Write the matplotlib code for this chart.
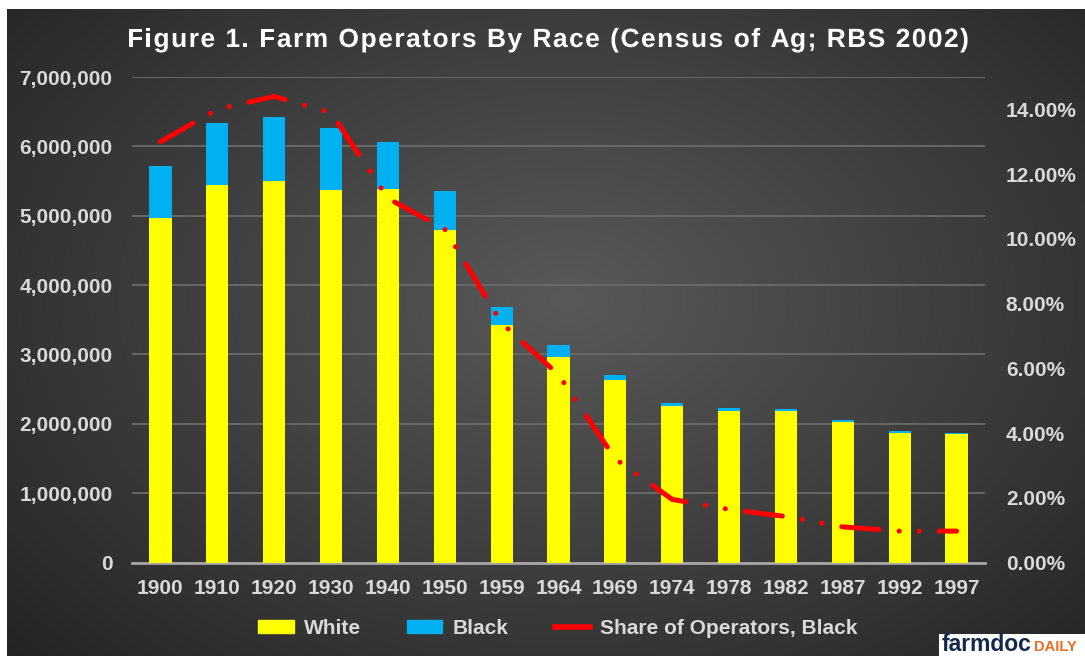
import numpy as np
import matplotlib
matplotlib.use("Agg")
import matplotlib.pyplot as plt
from matplotlib.patches import Patch, Rectangle
from matplotlib.lines import Line2D
from matplotlib import patheffects as pe

# data
years = ["1900", "1910", "1920", "1930", "1940", "1950", "1959", "1964",
         "1969", "1974", "1978", "1982", "1987", "1992", "1997"]
white = [4.97e6, 5.44e6, 5.50e6, 5.37e6, 5.39e6, 4.80e6, 3.43e6, 2.96e6,
         2.63e6, 2.26e6, 2.19e6, 2.18e6, 2.03e6, 1.87e6, 1.85e6]
black = [0.74e6, 0.90e6, 0.92e6, 0.89e6, 0.67e6, 0.56e6, 0.26e6, 0.17e6,
         0.08e6, 0.035e6, 0.035e6, 0.03e6, 0.025e6, 0.02e6, 0.02e6]
share = [0.130, 0.140, 0.144, 0.139, 0.1125, 0.103, 0.074, 0.058,
         0.032, 0.0195, 0.0164, 0.0142, 0.011, 0.0097, 0.0097]
title = "Figure 1. Farm Operators By Race (Census of Ag; RBS 2002)"

plt.rcParams["font.family"] = ["Liberation Sans", "DejaVu Sans"]
plt.rcParams["font.weight"] = "bold"
txt_color = "#d9d9d9"

W, H = 1085, 656
fig = plt.figure(figsize=(W / 100, H / 100), dpi=100, facecolor="white")

# dark radial background (white strip on top and left like the original)
bg = fig.add_axes([7 / W, 0, 1 - 7 / W, 1 - 9 / H])
yy, xx = np.mgrid[0:1:300j, 0:1:500j]
r = np.sqrt(((xx - 0.52) / 0.75) ** 2 + ((yy - 0.45) / 0.85) ** 2)
shade = np.clip(0.35 - 0.22 * r, 0.14, 0.35)
bg.imshow(np.dstack([shade, shade, shade]), aspect="auto",
          extent=[0, 1, 0, 1], interpolation="bilinear")
bg.set_axis_off()

ax = fig.add_axes([132 / W, 1 - 562.5 / H, 853 / W, 485.5 / H])
ax.patch.set_alpha(0)
x = np.arange(len(years))

ax.bar(x, white, width=0.39, color="#ffff00", zorder=3)
ax.bar(x, black, width=0.39, bottom=white, color="#00b0f0", zorder=3)

ax.set_xlim(-0.5, len(years) - 0.5)
ax.set_ylim(0, 7e6)
ax.set_yticks(np.arange(0, 7.01e6, 1e6))
ax.yaxis.set_major_formatter(matplotlib.ticker.FuncFormatter(lambda v, p: f"{v:,.0f}"))
ax.set_xticks(x)
ax.set_xticklabels(years)
ax.grid(axis="y", color="#6b6b6b", lw=1.3, zorder=0)
for s in ["top", "right", "left"]:
    ax.spines[s].set_visible(False)
ax.spines["bottom"].set_color("#a6a6a6")
ax.spines["bottom"].set_linewidth(2)
ax.tick_params(axis="both", length=0, colors=txt_color, labelsize=15)
ax.tick_params(axis="x", pad=12)
ax.tick_params(axis="y", pad=14)

# share line on the right axis
ax2 = ax.twinx()
ax2.set_ylim(0, 0.15)
ax2.set_yticks(np.arange(0, 0.141, 0.02))
ax2.yaxis.set_major_formatter(matplotlib.ticker.PercentFormatter(1.0, decimals=2))
ax2.plot(x, share, color="#ff0000", lw=3.6, solid_capstyle="round",
         dash_capstyle="round", dashes=(7.5, 4, 0.03, 4, 0.03, 4), zorder=4)
for s in ax2.spines.values():
    s.set_visible(False)
ax2.tick_params(axis="y", length=0, colors=txt_color, labelsize=15, pad=15)

# title with letter spacing: place chars one by one
renderer = fig.canvas.get_renderer()
tsize = 19
tmp = fig.text(0, 0, title, fontsize=tsize, fontweight="bold")
natural = tmp.get_window_extent(renderer).width
tmp.remove()
spacing = (842 - natural) / (len(title) - 1)
for i, ch in enumerate(title):
    if ch == " ":
        continue
    if i > 0:
        t = fig.text(0, 0, title[:i], fontsize=tsize, fontweight="bold")
        w = t.get_window_extent(renderer).width
        t.remove()
    else:
        w = 0
    fig.text((127 + w + i * spacing) / W, 1 - 47 / H, ch, fontsize=tsize,
             fontweight="bold", color="white", ha="left", va="baseline",
             path_effects=[pe.SimpleLineShadow(offset=(1.2, -1.2), alpha=0.6), pe.Normal()])

handles = [Patch(color="#ffff00"), Patch(color="#00b0f0"),
           Line2D([], [], color="#ff0000", lw=4)]
leg = fig.legend(handles, ["White", "Black", "Share of Operators, Black"],
                 loc="center", bbox_to_anchor=(558 / W, 1 - 628 / H), ncol=3,
                 frameon=False, fontsize=15, handlelength=1.7, handleheight=0.6,
                 columnspacing=2.2, handletextpad=0.5)
for t in leg.get_texts():
    t.set_color(txt_color)

# farmdoc daily logo in the bottom right corner
fig.patches.append(Rectangle((939 / W, 0), (W - 939) / W, 22 / H, transform=fig.transFigure,
                             facecolor="white", edgecolor="none", zorder=5))
fig.text(942 / W, 5 / H, "farmdoc", color="#13294b", fontsize=16.5, fontweight="bold",
         ha="left", va="baseline", zorder=6)
fig.text(1034 / W, 5 / H, "DAILY", color="#f26a21", fontsize=10.5, fontweight="bold",
         ha="left", va="baseline", zorder=6)

fig.savefig("out.png", dpi=100, facecolor=fig.get_facecolor())
